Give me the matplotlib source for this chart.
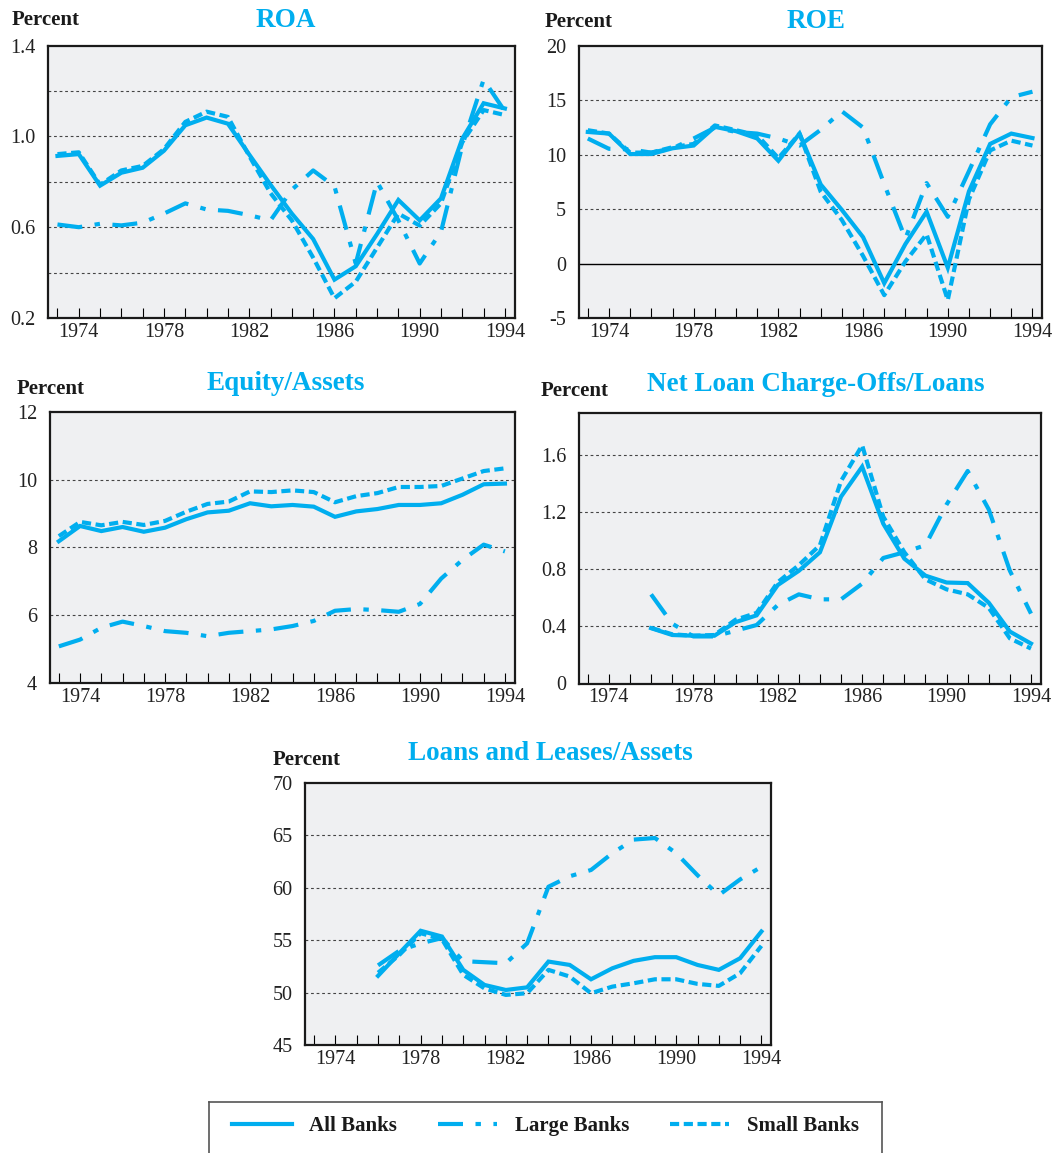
import matplotlib
matplotlib.use("Agg")
import matplotlib.pyplot as plt
from matplotlib.lines import Line2D

# ---------------- data ----------------
years_a = list(range(1973, 1995))
years_b = list(range(1976, 1995))

roa_all = [0.914, 0.922, 0.783, 0.84, 0.862, 0.937, 1.049, 1.083, 1.056, 0.92, 0.787,
           0.66, 0.548, 0.369, 0.428, 0.57, 0.72, 0.63, 0.727, 0.99, 1.146, 1.123]
roa_large = [0.612, 0.60, 0.615, 0.608, 0.62, 0.66, 0.705, 0.678, 0.672, 0.653, 0.63,
             0.765, 0.85, 0.78, 0.44, 0.80, 0.63, 0.44, 0.58, 0.96, 1.25, 1.11]
roa_small = [0.922, 0.93, 0.787, 0.85, 0.87, 0.944, 1.064, 1.109, 1.086, 0.914, 0.75,
             0.63, 0.466, 0.287, 0.36, 0.51, 0.66, 0.607, 0.705, 0.974, 1.116, 1.094]

roe_all = [12.1, 11.95, 10.07, 10.07, 10.6, 10.85, 12.57, 12.17, 11.5, 9.45, 11.95,
           7.27, 4.93, 2.43, -1.8, 1.8, 4.77, -0.38, 6.64, 11.0, 11.95, 11.54]
roe_large = [11.5, 10.55, 10.5, 10.2, 10.6, 11.5, 12.5, 12.1, 11.95, 11.5, 10.85,
             12.3, 14.0, 12.5, 7.3, 2.3, 7.4, 4.3, 8.5, 12.8, 15.3, 15.8]
roe_small = [12.26, 11.95, 10.2, 10.2, 10.7, 11.0, 12.7, 12.26, 11.8, 9.7, 11.95,
             6.6, 4.0, 0.7, -2.9, 0.2, 2.7, -3.35, 5.9, 10.4, 11.3, 10.85]

eq_all = [8.18, 8.63, 8.48, 8.6, 8.46, 8.58, 8.83, 9.03, 9.08, 9.3, 9.21,
          9.25, 9.2, 8.9, 9.06, 9.13, 9.25, 9.25, 9.3, 9.55, 9.86, 9.88]
eq_large = [5.08, 5.28, 5.63, 5.81, 5.68, 5.53, 5.48, 5.38, 5.48, 5.53, 5.58,
            5.68, 5.83, 6.13, 6.18, 6.15, 6.1, 6.33, 7.08, 7.63, 8.08, 7.88]
eq_small = [8.33, 8.75, 8.65, 8.75, 8.66, 8.78, 9.05, 9.28, 9.35, 9.65, 9.63,
            9.68, 9.63, 9.33, 9.51, 9.6, 9.78, 9.78, 9.81, 10.03, 10.25, 10.33]

co_all = [0.388, 0.34, 0.335, 0.335, 0.43, 0.478, 0.69, 0.79, 0.92, 1.31,
          1.52, 1.12, 0.875, 0.756, 0.708, 0.704, 0.566, 0.364, 0.28]
co_large = [0.625, 0.42, 0.33, 0.33, 0.37, 0.41, 0.55, 0.625, 0.59, 0.59,
            0.70, 0.88, 0.92, 0.97, 1.255, 1.49, 1.22, 0.79, 0.49]
co_small = [0.39, 0.345, 0.335, 0.34, 0.447, 0.495, 0.71, 0.83, 0.97, 1.42,
            1.67, 1.17, 0.92, 0.73, 0.66, 0.625, 0.53, 0.316, 0.245]

ll_all = [51.6, 53.76, 55.9, 55.35, 52.17, 50.73, 50.25, 50.5, 52.96, 52.64,
          51.27, 52.32, 53.03, 53.38, 53.38, 52.64, 52.17, 53.28, 55.83]
ll_large = [52.6, 54.0, 54.7, 55.2, 53.0, 52.9, 52.8, 54.7, 60.1, 61.1,
            61.7, 63.3, 64.6, 64.75, 63.3, 61.2, 59.3, 60.8, 62.0]
ll_small = [51.9, 53.6, 55.67, 55.1, 51.7, 50.4, 49.78, 49.94, 52.17, 51.53,
            49.94, 50.57, 50.89, 51.27, 51.27, 50.83, 50.64, 51.85, 54.46]

series_labels = ["All Banks", "Large Banks", "Small Banks"]
xtick_years = [1974, 1978, 1982, 1986, 1990, 1994]

# ---------------- style ----------------
CYAN = "#00AEEF"
BG = "#EFF0F2"
SERIF = "Liberation Serif"
LW = 3.0
STYLES = ["-", (0, (6, 3, 1.3, 3)), (0, (2.2, 1.1))]

W, H = 1064, 1153
fig = plt.figure(figsize=(W / 100, H / 100), dpi=100)


def rect(l, t, r, b):
    return [l / W, 1 - b / H, (r - l) / W, (b - t) / H]


def fig_text(x, y, s, **kw):
    fig.text(x / W, 1 - y / H, s, **kw)


def make_panel(box, years, data, ylim, yticks, ylabels, grid, title, title_xy,
               pct_xy, zero_line=False):
    ax = fig.add_axes(rect(*box))
    ax.set_facecolor(BG)
    for g in grid:
        ax.axhline(g, color="#444444", lw=0.8, ls=(0, (2.5, 2.5)), zorder=1)
    if zero_line:
        ax.axhline(0, color="black", lw=1.0, zorder=1)
    for vals, st in zip(data, STYLES):
        ax.plot(years, vals, color=CYAN, lw=LW, ls=st, zorder=3,
                solid_joinstyle="miter", dash_capstyle="butt")
    ax.set_xlim(1972.57, 1994.45)
    ax.set_ylim(*ylim)
    ax.set_xticks(list(range(1973, 1995)))
    ax.set_xticklabels([str(y) if y in xtick_years else "" for y in range(1973, 1995)])
    ax.set_yticks(yticks)
    ax.set_yticklabels(ylabels)
    ax.tick_params(axis="x", direction="in", length=7, width=0.8, pad=3.5,
                   labelsize=14.5, top=False)
    ax.tick_params(axis="y", length=0, pad=9, labelsize=14.5)
    for lab in ax.get_xticklabels() + ax.get_yticklabels():
        lab.set_fontfamily(SERIF)
        lab.set_color("#222222")
    for sp in ax.spines.values():
        sp.set_linewidth(1.6)
        sp.set_color("#1a1a1a")
    fig_text(title_xy[0], title_xy[1], title, ha="center", va="baseline",
             fontsize=19.5, fontweight="bold", color=CYAN, family=SERIF)
    fig_text(pct_xy[0], pct_xy[1], "Percent", ha="left", va="baseline",
             fontsize=15, fontweight="bold", color="#1a1a1a", family=SERIF)
    return ax


make_panel((48.3, 45.6, 514.5, 318), years_a, [roa_all, roa_large, roa_small],
           (0.2, 1.4), [0.2, 0.6, 1.0, 1.4], ["0.2", "0.6", "1.0", "1.4"],
           [0.4, 0.6, 0.8, 1.0, 1.2], "ROA", (285.7, 27), (11.8, 25.4))

make_panel((578.7, 46, 1042, 318), years_a, [roe_all, roe_large, roe_small],
           (-5, 20), [-5, 0, 5, 10, 15, 20], ["-5", "0", "5", "10", "15", "20"],
           [5, 10, 15], "ROE", (816, 28.5), (544.3, 27), zero_line=True)

make_panel((49.7, 411.7, 514.5, 683), years_a, [eq_all, eq_large, eq_small],
           (4, 12), [4, 6, 8, 10, 12], ["4", "6", "8", "10", "12"],
           [6, 8, 10], "Equity/Assets", (285.7, 390.4), (17, 393.8))

make_panel((578.7, 412.5, 1040.5, 683.5), years_b, [co_all, co_large, co_small],
           (0, 1.9), [0, 0.4, 0.8, 1.2, 1.6], ["0", "0.4", "0.8", "1.2", "1.6"],
           [0.4, 0.8, 1.2, 1.6], "Net Loan Charge-Offs/Loans", (816, 390.7),
           (541, 395.8))

make_panel((305, 783, 771, 1045), years_b, [ll_all, ll_large, ll_small],
           (45, 70), [45, 50, 55, 60, 65, 70], ["45", "50", "55", "60", "65", "70"],
           [50, 55, 60, 65], "Loans and Leases/Assets", (550, 760), (273, 765))

# ---------------- legend ----------------
lax = fig.add_axes(rect(209, 1102, 882, 1153))
lax.set_xticks([])
lax.set_yticks([])
lax.set_facecolor("white")
for name, sp in lax.spines.items():
    sp.set_color("#555555")
    sp.set_linewidth(1.2)
lax.spines["bottom"].set_visible(False)
handles = [Line2D([], [], color=CYAN, lw=LW, ls=st, dash_capstyle="butt")
           for st in STYLES]
leg = lax.legend(handles, series_labels, loc="center", ncol=3, frameon=False,
                 handlelength=2.85, handletextpad=0.85, columnspacing=1.95,
                 bbox_to_anchor=(0.5, 0.52),
                 prop={"family": SERIF, "weight": "bold", "size": 15})
for t in leg.get_texts():
    t.set_color("#1a1a1a")

fig.savefig("out.png", dpi=100)
